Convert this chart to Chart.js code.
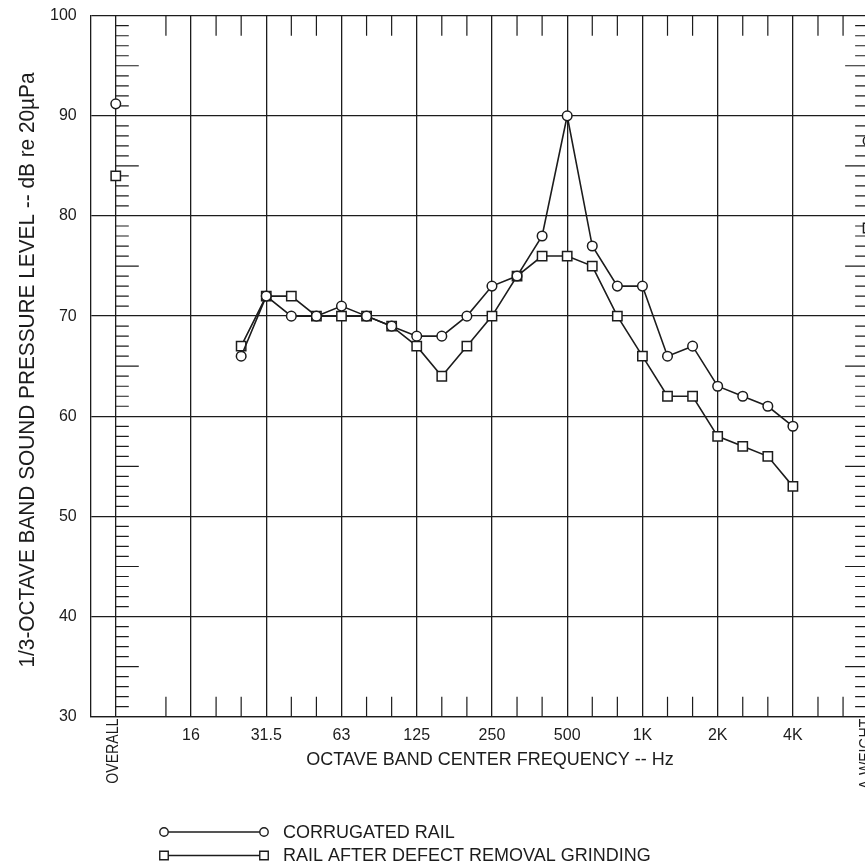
<!DOCTYPE html>
<html>
<head>
<meta charset="utf-8">
<title>1/3-octave band spectrum</title>
<script src="https://cdn.jsdelivr.net/npm/chart.js@4.4.1/dist/chart.umd.min.js"></script>
<style>
  html, body { margin: 0; padding: 0; background: #fff; overflow: hidden; }
  canvas { display: block; }
</style>
</head>
<body>
<canvas id="chart" width="880" height="866"></canvas>
<script>
// x position of every band is its index in this list
const bands = ['OVERALL', '10', '12.5', '16', '20', '25', '31.5', '40', '50', '63', '80', '100',
  '125', '160', '200', '250', '315', '400', '500', '630', '800', '1K', '1.25K', '1.6K', '2K',
  '2.5K', '3.15K', '4K', '5K', '6.3K', 'A-WEIGHT'];
const octaveLabels = ['16', '31.5', '63', '125', '250', '500', '1K', '2K', '4K'];
const yTicks = [30, 40, 50, 60, 70, 80, 90, 100];

const seriesNames = ['CORRUGATED RAIL', 'RAIL AFTER DEFECT REMOVAL GRINDING'];
const corrugated = [91.2, null, null, null, null, 66, 72, 70, 70, 71, 70, 69, 68, 68, 70, 73,
  74, 78, 90, 77, 73, 73, 66, 67, 63, 62, 61, 59, null, null, 87.5];
const grinding = [84, null, null, null, null, 67, 72, 72, 70, 70, 70, 69, 67, 64, 67, 70,
  74, 76, 76, 75, 70, 66, 62, 62, 58, 57, 56, 53, null, null, 78.8];

const yTitle = '1/3-OCTAVE BAND SOUND PRESSURE LEVEL -- dB re 20\u00B5Pa';
const xTitle = 'OCTAVE BAND CENTER FREQUENCY -- Hz';

const ink = '#1c1c1c';
const font = '"Liberation Sans", Arial, Helvetica, sans-serif';
const lastBand = bands.length - 1;

function isMajor(v) {
  return v === 0 || v === lastBand || octaveLabels.includes(bands[v]);
}

// no extra room for edge labels, the plot box is set by hand
function noPadding(s) {
  s.paddingTop = 0; s.paddingBottom = 0;
  s.paddingLeft = 0; s.paddingRight = 0;
}

// rotated text, reading bottom to top, squeezed to a given length
function vText(ctx, str, px, py, size, len, align) {
  ctx.save();
  ctx.font = size + 'px ' + font;
  const w = ctx.measureText(str).width;
  ctx.translate(px, py);
  ctx.rotate(-Math.PI / 2);
  ctx.scale(len / w, 1);
  ctx.textAlign = align;
  ctx.textBaseline = 'alphabetic';
  ctx.fillStyle = ink;
  ctx.fillText(str, 0, 0);
  ctx.restore();
}

const decorations = {
  id: 'decorations',
  beforeDatasetsDraw(chart) {
    const { ctx, chartArea: a } = chart;
    const x = chart.scales.x, y = chart.scales.y;
    ctx.save();
    ctx.strokeStyle = ink;
    ctx.lineWidth = 1.2;
    ctx.beginPath();
    // third-octave ticks along top and bottom
    bands.forEach((b, i) => {
      if (i < 2 || i >= lastBand || i % 3 === 0) return;
      const px = x.getPixelForValue(i);
      ctx.moveTo(px, a.top); ctx.lineTo(px, a.top + 20);
      ctx.moveTo(px, a.bottom); ctx.lineTo(px, a.bottom - 20);
    });
    // 1 dB ticks on the OVERALL and A-WEIGHT lines
    const x0 = x.getPixelForValue(0), x1 = x.getPixelForValue(lastBand);
    for (let v = yTicks[0] + 1; v < yTicks[yTicks.length - 1]; v++) {
      if (v % 10 === 0) continue;
      const len = v % 5 === 0 ? 23 : 13;
      const py = y.getPixelForValue(v);
      ctx.moveTo(x0, py); ctx.lineTo(x0 + len, py);
      ctx.moveTo(x1, py); ctx.lineTo(x1 - len, py);
    }
    ctx.stroke();
    ctx.restore();
  },
  afterDraw(chart) {
    const { ctx, chartArea: a } = chart;
    const x = chart.scales.x;

    // end labels
    vText(ctx, bands[0], x.getPixelForValue(0) + 2.6, a.bottom + 2, 16, 65, 'right');
    vText(ctx, bands[lastBand], x.getPixelForValue(lastBand) + 2.6, a.bottom + 2, 16, 70.5, 'right');

    // axis titles
    vText(ctx, yTitle, 34, 370, 22, 595, 'center');
    ctx.save();
    ctx.fillStyle = ink;
    ctx.font = '18px ' + font;
    ctx.textAlign = 'center';
    ctx.textBaseline = 'middle';
    ctx.fillText(xTitle, 490, 760);

    // legend
    seriesNames.forEach((name, k) => {
      const ds = chart.data.datasets[k];
      const ly = 832 + k * 23.5;
      ctx.strokeStyle = ink;
      ctx.lineWidth = 1.4;
      ctx.beginPath();
      ctx.moveTo(164, ly); ctx.lineTo(264, ly);
      ctx.stroke();
      [164, 264].forEach(px => {
        ctx.fillStyle = '#fff';
        ctx.strokeStyle = ink;
        ctx.lineWidth = 1.4;
        Chart.helpers.drawPoint(ctx, {
          pointStyle: ds.pointStyle, radius: ds.pointRadius - 0.6,
          rotation: 0, borderWidth: 1.4
        }, px, ly);
      });
      ctx.fillStyle = ink;
      ctx.textAlign = 'left';
      ctx.fillText(name, 283, ly + 1);
    });
    ctx.restore();
  }
};

function series(label, values, style, radius) {
  return {
    label,
    data: values.map((v, i) => ({ x: i, y: v })),
    borderColor: ink,
    borderWidth: 1.6,
    pointStyle: style,
    pointRadius: radius,
    pointBackgroundColor: '#fff',
    pointBorderColor: ink,
    pointBorderWidth: 1.5,
    spanGaps: false,
    tension: 0
  };
}

new Chart(document.getElementById('chart'), {
  type: 'line',
  data: {
    datasets: [
      series(seriesNames[0], corrugated, 'circle', 4.8),
      series(seriesNames[1], grinding, 'rect', 6.6)
    ]
  },
  options: {
    responsive: false,
    animation: false,
    layout: { padding: { top: 15.7, right: 0, bottom: 0, left: 0 } },
    plugins: { legend: { display: false }, tooltip: { enabled: false } },
    scales: {
      x: {
        type: 'linear',
        min: -1,
        max: lastBand + 0.15,
        afterFit: s => { s.height = 866 - 716.7; noPadding(s); },
        ticks: {
          stepSize: 1,
          autoSkip: false,
          maxRotation: 0,
          padding: 9,
          color: ink,
          font: { family: font, size: 16 },
          callback: v => (Number.isInteger(v) && octaveLabels.includes(bands[v]) ? bands[v] : '')
        },
        grid: {
          drawTicks: false,
          lineWidth: 1.3,
          color: c => (c.tick && isMajor(c.tick.value) ? ink : 'rgba(0,0,0,0)')
        },
        border: { display: true, color: ink, width: 1.3 }
      },
      y: {
        min: yTicks[0],
        max: yTicks[yTicks.length - 1],
        afterFit: s => { s.width = 90.7; noPadding(s); },
        ticks: {
          stepSize: 10,
          padding: 14,
          color: ink,
          font: { family: font, size: 16 }
        },
        grid: { drawTicks: false, lineWidth: 1.3, color: ink },
        border: { display: true, color: ink, width: 1.3 }
      }
    }
  },
  plugins: [decorations]
});
</script>
</body>
</html>
